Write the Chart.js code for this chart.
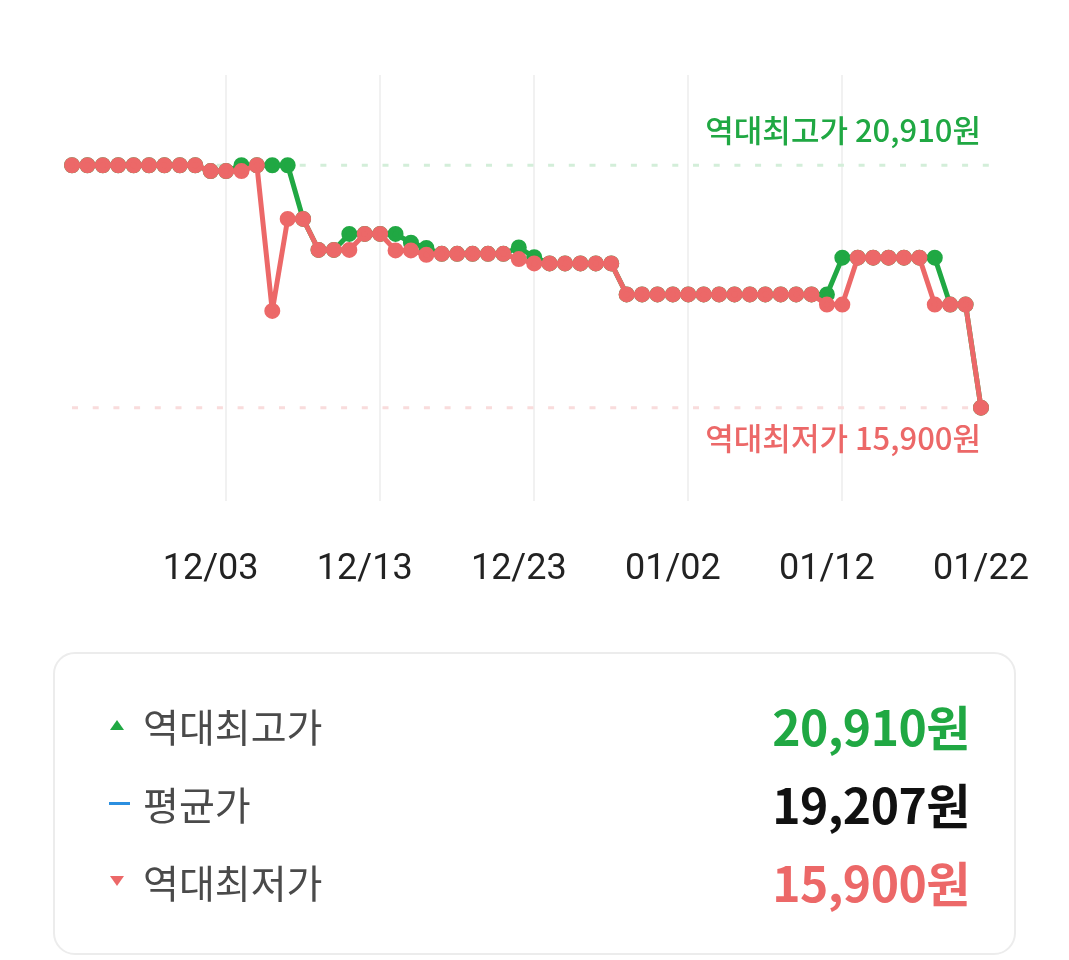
<!DOCTYPE html>
<html>
<head>
<meta charset="utf-8">
<script src="https://cdn.jsdelivr.net/npm/chart.js@4.4.0/dist/chart.umd.min.js"></script>
<style>
  body { margin: 0; background: #fff; width: 1069px; height: 960px; position: relative; overflow: hidden; }
  #wrap { position: absolute; left: 0; top: 0; width: 1069px; height: 660px; }
  .box { position: absolute; left: 53px; top: 652px; width: 959px; height: 299px;
         border: 2px solid #ececec; border-radius: 22px; font-family: 'Noto Sans CJK KR', sans-serif; }
  .row { position: absolute; left: 0; right: 0; height: 60px; }
  .row .ic { position: absolute; left: 50px; top: 0; width: 26px; height: 60px; }
  .row .lb { position: absolute; left: 88px; top: 0; line-height: 60px; font-size: 39px; color: #4a4a4a; }
  .row .val { position: absolute; right: 44px; top: 0; line-height: 60px; font-size: 48px; font-weight: 700; letter-spacing: -0.5px; }
</style>
</head>
<body>
<div id="wrap"><canvas id="graf"></canvas></div>
<div class="box" id="box"></div>
<script>
// dates 11/24 ~ 01/22
var dates = ['11/24','11/25','11/26','11/27','11/28','11/29','11/30',
  '12/01','12/02','12/03','12/04','12/05','12/06','12/07','12/08','12/09','12/10',
  '12/11','12/12','12/13','12/14','12/15','12/16','12/17','12/18','12/19','12/20',
  '12/21','12/22','12/23','12/24','12/25','12/26','12/27','12/28','12/29','12/30','12/31',
  '01/01','01/02','01/03','01/04','01/05','01/06','01/07','01/08','01/09','01/10',
  '01/11','01/12','01/13','01/14','01/15','01/16','01/17','01/18','01/19','01/20',
  '01/21','01/22'];

var tickLabels = ['12/03','12/13','12/23','01/02','01/12','01/22'];
var gridDates = ['12/04','12/14','12/24','01/03','01/13'];

// 최고가 (green)
var highPrices = [20910,20910,20910,20910,20910,20910,20910,20910,20910,20790,
  20790,20910,20910,20910,20910,19800,19160,19160,19490,19490,
  19490,19490,19310,19200,19080,19080,19080,19080,19080,19210,
  19010,18880,18880,18880,18880,18880,18240,18240,18240,18240,
  18240,18240,18240,18240,18240,18240,18240,18240,18240,18240,
  19000,19000,19000,19000,19000,19000,19000,18030,18030,15900];

// 최저가 (red)
var lowPrices = [20910,20910,20910,20910,20910,20910,20910,20910,20910,20790,
  20790,20790,20910,17900,19800,19800,19160,19160,19160,19490,
  19490,19150,19150,19060,19080,19080,19080,19080,19080,18970,
  18880,18880,18880,18880,18880,18880,18240,18240,18240,18240,
  18240,18240,18240,18240,18240,18240,18240,18240,18240,18030,
  18030,19000,19000,19000,19000,19000,18030,18030,18030,15900];

var highPrice = 20910;
var avgPrice = 19207;
var lowPrice = 15900;

var green = '#20a843';
var red = '#ec6868';

function won(v) { return v.toLocaleString('en-US') + '원'; }

var refLines = {
  id: 'refLines',
  beforeDatasetsDraw: function (chart) {
    var c = chart.ctx, a = chart.chartArea, y = chart.scales.y;
    var lines = [
      { v: highPrice, line: '#d3eed9', text: '역대최고가 ' + won(highPrice), color: green, dy: -35 },
      { v: lowPrice, line: '#f9dcdc', text: '역대최저가 ' + won(lowPrice), color: red, dy: 31 }
    ];
    lines.forEach(function (l) {
      var py = y.getPixelForValue(l.v);
      c.save();
      c.strokeStyle = l.line;
      c.lineWidth = 3;
      c.setLineDash([6, 14.7]);
      c.beginPath();
      c.moveTo(a.left, py);
      c.lineTo(a.right + 14, py);
      c.stroke();
      c.setLineDash([]);
      c.fillStyle = l.color;
      c.font = '500 31px "Noto Sans CJK KR"';
      c.textAlign = 'right';
      c.textBaseline = 'middle';
      c.fillText(l.text, a.right, py + l.dy);
      c.restore();
    });
  }
};

var ctx = document.getElementById('graf').getContext('2d');
var myChart = new Chart(ctx, {
  type: 'line',
  data: {
    labels: dates,
    datasets: [{
      label: '최저가',
      data: lowPrices,
      borderColor: red,
      backgroundColor: red,
      borderWidth: 5,
      borderJoinStyle: 'round',
      pointRadius: 5.5,
      pointHoverRadius: 5.5,
      tension: 0,
      clip: false,
      order: 0
    }, {
      label: '최고가',
      data: highPrices,
      borderColor: green,
      backgroundColor: green,
      borderWidth: 5,
      borderJoinStyle: 'round',
      pointRadius: 5.5,
      pointHoverRadius: 5.5,
      tension: 0,
      clip: false,
      order: 1
    }]
  },
  options: {
    responsive: true,
    maintainAspectRatio: false,
    animation: false,
    layout: { padding: { left: 72, right: 88, top: 75, bottom: 20 } },
    plugins: { legend: { display: false }, tooltip: { enabled: false } },
    scales: {
      x: {
        border: { display: false },
        afterFit: function (scale) {
          // labels may hang over the edges, keep the plot width fixed
          scale.paddingLeft = 0;
          scale.paddingRight = 0;
        },
        grid: {
          drawTicks: false,
          lineWidth: 2,
          color: function (c) {
            return gridDates.indexOf(dates[c.index]) >= 0 ? '#f1f1f1' : 'rgba(0,0,0,0)';
          }
        },
        ticks: {
          autoSkip: false,
          maxRotation: 0,
          padding: 48,
          color: '#222',
          font: { family: 'Roboto', size: 36 },
          callback: function (v, i) {
            return tickLabels.indexOf(dates[i]) >= 0 ? dates[i] : '';
          }
        }
      },
      y: {
        display: false,
        min: 13975,
        max: 22775
      }
    }
  },
  plugins: [refLines]
});

// summary box
var rows = [
  { icon: 'up', label: '역대최고가', value: highPrice, color: green },
  { icon: 'avg', label: '평균가', value: avgPrice, color: '#111' },
  { icon: 'down', label: '역대최저가', value: lowPrice, color: red }
];
var box = document.getElementById('box');
rows.forEach(function (r, i) {
  var row = document.createElement('div');
  row.className = 'row';
  row.style.top = (41 + i * 78) + 'px';
  var svg;
  if (r.icon === 'up') svg = '<svg width="26" height="60"><polygon points="5,35 19,35 12,25" fill="' + green + '"/></svg>';
  else if (r.icon === 'down') svg = '<svg width="26" height="60"><polygon points="5,25 19,25 12,35" fill="' + red + '"/></svg>';
  else svg = '<svg width="26" height="60"><rect x="4" y="29" width="21" height="3" fill="#2b8fe0"/></svg>';
  row.innerHTML = '<div class="ic">' + svg + '</div><div class="lb">' + r.label + '</div>' +
    '<div class="val" style="color:' + r.color + '">' + won(r.value) + '</div>';
  box.appendChild(row);
});
</script>
</body>
</html>
